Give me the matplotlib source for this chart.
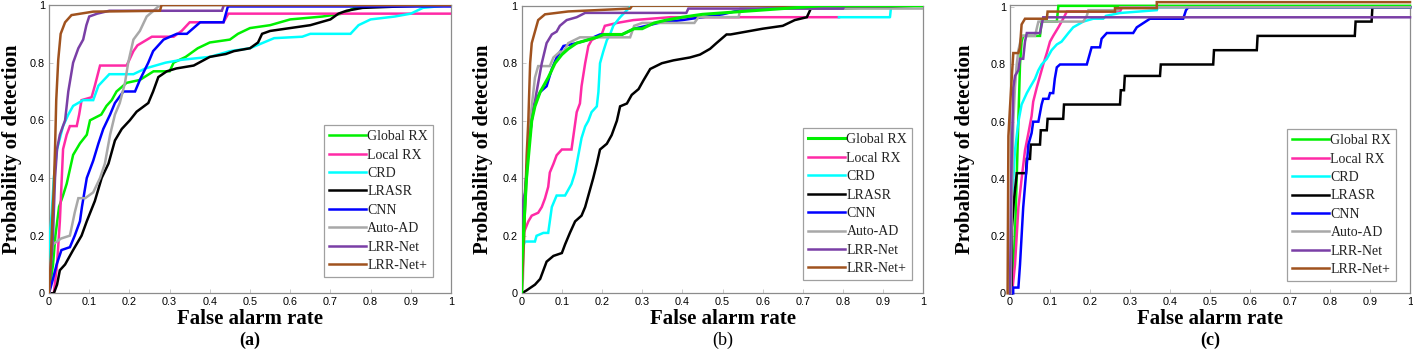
import matplotlib
matplotlib.use("Agg")
import matplotlib.pyplot as plt

# ---------------- data ----------------
LABELS = ["Global RX", "Local RX", "CRD", "LRASR", "CNN", "Auto-AD", "LRR-Net", "LRR-Net+"]
COLORS = ["#00f000", "#ff2aa6", "#00ffff", "#000000", "#0000ff", "#a8a8a8", "#7a3fa6", "#a0521e"]
PANEL_TAGS = ["(a)", "(b)", "(c)"]
XTICKS = [0, 0.1, 0.2, 0.3, 0.4, 0.5, 0.6, 0.7, 0.8, 0.9, 1]
XTICK_LABELS = ["0", "0.1", "0.2", "0.3", "0.4", "0.5", "0.6", "0.7", "0.8", "0.9", "1"]
YTICKS = [0, 0.2, 0.4, 0.6, 0.8, 1]
YTICK_LABELS = ["0", "0.2", "0.4", "0.6", "0.8", "1"]

# Panel (a)
a_global_x = [0, 0.005, 0.01, 0.016, 0.025, 0.035, 0.044, 0.052, 0.06, 0.077, 0.094, 0.102, 0.13, 0.143, 0.156, 0.168, 0.193, 0.226, 0.26, 0.3, 0.31, 0.34, 0.37, 0.40, 0.45, 0.47, 0.5, 0.55, 0.6, 0.68, 0.73, 0.76, 0.85, 1.0]
a_global_y = [0, 0.05, 0.1, 0.2, 0.3, 0.34, 0.38, 0.43, 0.48, 0.52, 0.55, 0.6, 0.62, 0.65, 0.67, 0.7, 0.73, 0.74, 0.77, 0.77, 0.8, 0.82, 0.85, 0.87, 0.88, 0.9, 0.92, 0.93, 0.95, 0.96, 0.97, 0.99, 1.0, 1.0]
a_local_x = [0.008, 0.012, 0.02, 0.027, 0.035, 0.044, 0.052, 0.069, 0.075, 0.081, 0.106, 0.114, 0.127, 0.193, 0.2, 0.21, 0.22, 0.256, 0.31, 0.32, 0.33, 0.35, 0.434, 0.446, 1.0]
a_local_y = [0, 0, 0.1, 0.25, 0.5, 0.55, 0.58, 0.58, 0.62, 0.67, 0.68, 0.72, 0.79, 0.79, 0.81, 0.84, 0.86, 0.89, 0.89, 0.9, 0.91, 0.94, 0.94, 0.97, 0.97]
a_crd_x = [0, 0, 0.002, 0.007, 0.012, 0.02, 0.035, 0.048, 0.06, 0.085, 0.11, 0.123, 0.15, 0.21, 0.24, 0.29, 0.33, 0.4, 0.45, 0.5, 0.56, 0.63, 0.65, 0.72, 0.75, 0.77, 0.8, 0.86, 0.9, 0.93, 1.0]
a_crd_y = [0, 0.13, 0.2, 0.28, 0.4, 0.5, 0.58, 0.62, 0.65, 0.67, 0.67, 0.72, 0.76, 0.76, 0.78, 0.8, 0.81, 0.82, 0.84, 0.85, 0.885, 0.89, 0.9, 0.9, 0.9, 0.93, 0.95, 0.96, 0.97, 0.99, 1.0]
a_lrasr_x = [0.008, 0.012, 0.02, 0.027, 0.04, 0.06, 0.081, 0.094, 0.114, 0.131, 0.148, 0.164, 0.181, 0.201, 0.218, 0.247, 0.259, 0.272, 0.293, 0.317, 0.36, 0.4, 0.44, 0.46, 0.5, 0.52, 0.53, 0.55, 0.6, 0.65, 0.7, 0.72, 0.74, 0.78, 0.97, 1.0]
a_lrasr_y = [0, 0, 0.03, 0.08, 0.1, 0.15, 0.2, 0.25, 0.32, 0.4, 0.45, 0.53, 0.57, 0.6, 0.63, 0.66, 0.7, 0.75, 0.77, 0.78, 0.79, 0.82, 0.83, 0.84, 0.85, 0.87, 0.9, 0.91, 0.92, 0.93, 0.95, 0.97, 0.98, 0.99, 1.0, 1.0]
a_cnn_x = [0, 0.01, 0.019, 0.031, 0.052, 0.064, 0.077, 0.082, 0.094, 0.11, 0.123, 0.135, 0.152, 0.164, 0.185, 0.214, 0.226, 0.247, 0.259, 0.285, 0.318, 0.343, 0.376, 0.434, 0.44, 0.445, 1.0]
a_cnn_y = [0, 0.05, 0.1, 0.15, 0.16, 0.2, 0.25, 0.3, 0.4, 0.46, 0.52, 0.57, 0.62, 0.66, 0.7, 0.7, 0.74, 0.8, 0.84, 0.88, 0.9, 0.9, 0.94, 0.94, 0.97, 0.995, 0.995]
a_autoad_x = [0, 0.003, 0.01, 0.03, 0.052, 0.064, 0.073, 0.09, 0.11, 0.127, 0.139, 0.152, 0.164, 0.176, 0.189, 0.197, 0.21, 0.226, 0.243, 0.26, 0.276, 1.0]
a_autoad_y = [0, 0.1, 0.17, 0.19, 0.2, 0.28, 0.33, 0.33, 0.35, 0.4, 0.45, 0.55, 0.62, 0.66, 0.73, 0.8, 0.88, 0.91, 0.96, 0.98, 1.0, 1.0]
a_lrrnet_x = [0, 0.005, 0.01, 0.015, 0.02, 0.027, 0.04, 0.048, 0.06, 0.073, 0.085, 0.093, 0.1, 0.12, 0.15, 0.43, 0.435, 1.0]
a_lrrnet_y = [0, 0.1, 0.2, 0.4, 0.5, 0.55, 0.6, 0.7, 0.8, 0.85, 0.88, 0.93, 0.96, 0.97, 0.98, 0.98, 1.0, 1.0]
a_lrrplus_x = [0, 0.004, 0.008, 0.012, 0.015, 0.018, 0.023, 0.029, 0.04, 0.056, 0.11, 0.276, 0.28, 1.0]
a_lrrplus_y = [0, 0.1, 0.25, 0.37, 0.5, 0.67, 0.81, 0.9, 0.94, 0.965, 0.977, 0.98, 1.0, 1.0]

# Panel (b)
b_global_x = [0, 0, 0.004, 0.012, 0.025, 0.033, 0.046, 0.058, 0.066, 0.083, 0.1, 0.116, 0.137, 0.162, 0.187, 0.204, 0.25, 0.28, 0.3, 0.33, 0.36, 0.4, 0.45, 0.55, 0.65, 0.75, 1.0]
b_global_y = [0, 0.1, 0.2, 0.4, 0.6, 0.65, 0.7, 0.73, 0.75, 0.8, 0.83, 0.85, 0.87, 0.88, 0.89, 0.9, 0.9, 0.92, 0.92, 0.94, 0.95, 0.96, 0.97, 0.98, 0.99, 1.0, 1.0]
b_local_x = [0, 0, 0.008, 0.0165, 0.025, 0.041, 0.05, 0.058, 0.066, 0.07, 0.079, 0.087, 0.1, 0.124, 0.129, 0.137, 0.145, 0.149, 0.158, 0.166, 0.174, 0.199, 0.207, 0.237, 0.278, 0.37, 0.79]
b_local_y = [0, 0.2, 0.22, 0.25, 0.27, 0.28, 0.3, 0.33, 0.37, 0.42, 0.45, 0.48, 0.5, 0.5, 0.55, 0.63, 0.66, 0.72, 0.8, 0.86, 0.88, 0.9, 0.93, 0.94, 0.95, 0.96, 0.96]
b_crd_x = [0, 0, 0.008, 0.033, 0.037, 0.054, 0.066, 0.07, 0.075, 0.087, 0.108, 0.116, 0.124, 0.133, 0.141, 0.149, 0.158, 0.166, 0.174, 0.187, 0.191, 0.195, 0.203, 0.212, 0.22, 0.228, 0.245, 0.266, 0.274, 1.0]
b_crd_y = [0, 0.15, 0.18, 0.18, 0.2, 0.21, 0.21, 0.25, 0.3, 0.34, 0.34, 0.36, 0.38, 0.42, 0.48, 0.54, 0.58, 0.6, 0.63, 0.65, 0.7, 0.8, 0.84, 0.88, 0.9, 0.93, 0.96, 0.99, 1.0, 1.0]
b_crd_tail_x = [0.79, 0.917, 0.92, 1.0]
b_crd_tail_y = [0.96, 0.96, 1.0, 1.0]
b_lrasr_x = [0, 0.012, 0.033, 0.046, 0.054, 0.062, 0.079, 0.1, 0.108, 0.12, 0.133, 0.149, 0.158, 0.17, 0.178, 0.187, 0.195, 0.212, 0.224, 0.237, 0.245, 0.262, 0.274, 0.291, 0.303, 0.32, 0.349, 0.378, 0.419, 0.444, 0.469, 0.485, 0.51, 0.52, 0.56, 0.6, 0.65, 0.68, 0.71, 0.72, 0.77, 0.9, 0.98, 1.0]
b_lrasr_y = [0, 0.01, 0.03, 0.05, 0.08, 0.11, 0.13, 0.14, 0.17, 0.21, 0.25, 0.27, 0.3, 0.36, 0.4, 0.45, 0.5, 0.52, 0.55, 0.6, 0.65, 0.66, 0.69, 0.71, 0.74, 0.78, 0.8, 0.81, 0.82, 0.83, 0.85, 0.87, 0.9, 0.9, 0.91, 0.92, 0.93, 0.95, 0.96, 0.99, 0.99, 0.995, 1.0, 1.0]
b_cnn_x = [0, 0, 0.004, 0.016, 0.029, 0.046, 0.062, 0.075, 0.087, 0.104, 0.137, 0.162, 0.195, 0.25, 0.28, 0.34, 0.4, 0.45, 0.5, 0.53, 0.6, 0.7, 1.0]
b_cnn_y = [0, 0.12, 0.25, 0.5, 0.65, 0.7, 0.72, 0.78, 0.82, 0.86, 0.87, 0.88, 0.9, 0.9, 0.92, 0.94, 0.95, 0.96, 0.97, 0.98, 0.99, 1.0, 1.0]
b_autoad_x = [0, 0.003, 0.008, 0.021, 0.033, 0.041, 0.07, 0.079, 0.095, 0.104, 0.116, 0.145, 0.27, 0.28, 0.3, 0.43, 0.44, 0.54, 0.545, 1.0]
b_autoad_y = [0, 0.05, 0.3, 0.6, 0.75, 0.79, 0.79, 0.82, 0.84, 0.84, 0.87, 0.89, 0.89, 0.93, 0.94, 0.94, 0.96, 0.96, 0.99, 0.99]
b_lrrnet_x = [0, 0, 0.008, 0.0165, 0.025, 0.037, 0.05, 0.062, 0.075, 0.087, 0.095, 0.112, 0.137, 0.158, 0.41, 0.415, 0.8, 0.805, 1.0]
b_lrrnet_y = [0, 0.3, 0.35, 0.5, 0.6, 0.7, 0.8, 0.87, 0.9, 0.91, 0.93, 0.95, 0.96, 0.975, 0.975, 0.99, 0.99, 1.0, 1.0]
b_lrrplus_x = [0, 0.006, 0.0124, 0.0165, 0.021, 0.025, 0.031, 0.041, 0.058, 0.116, 0.27, 0.275, 1.0]
b_lrrplus_y = [0, 0.2, 0.48, 0.6, 0.8, 0.87, 0.9, 0.95, 0.97, 0.98, 0.99, 1.0, 1.0]

# Panel (c)
c_global_x = [0.005, 0.0125, 0.0167, 0.0208, 0.025, 0.029, 0.033, 0.075, 0.079, 0.117, 0.121, 1.0]
c_global_y = [0, 0.2, 0.4, 0.6, 0.8, 0.88, 0.9, 0.9, 0.95, 0.95, 1.005, 1.005]
c_local_x = [0.005, 0.0125, 0.021, 0.029, 0.0375, 0.046, 0.054, 0.058, 0.067, 0.075, 0.083, 0.092, 0.1, 0.108, 0.121, 0.133, 0.142, 0.275, 0.28, 1.0]
c_local_y = [0, 0.1, 0.3, 0.4, 0.5, 0.56, 0.62, 0.67, 0.72, 0.76, 0.8, 0.84, 0.88, 0.9, 0.93, 0.96, 0.985, 0.985, 1.0, 1.0]
c_crd_x = [0.002, 0.0042, 0.0125, 0.021, 0.029, 0.042, 0.05, 0.0625, 0.071, 0.079, 0.092, 0.104, 0.117, 0.129, 0.146, 0.158, 0.183, 0.208, 0.233, 0.24, 0.275, 0.367, 0.37, 1.0]
c_crd_y = [0, 0.3, 0.5, 0.6, 0.66, 0.7, 0.72, 0.75, 0.78, 0.8, 0.82, 0.85, 0.87, 0.88, 0.91, 0.93, 0.95, 0.96, 0.96, 0.97, 0.98, 0.99, 1.0, 1.0]
c_lrasr_x = [0, 0.004, 0.005, 0.01, 0.017, 0.04, 0.042, 0.05, 0.052, 0.075, 0.077, 0.092, 0.094, 0.133, 0.135, 0.275, 0.277, 0.285, 0.287, 0.375, 0.377, 0.508, 0.51, 0.617, 0.619, 0.862, 0.864, 0.904, 0.906, 1.0]
c_lrasr_y = [0, 0, 0.23, 0.33, 0.42, 0.42, 0.47, 0.47, 0.52, 0.52, 0.57, 0.57, 0.61, 0.61, 0.66, 0.66, 0.71, 0.71, 0.76, 0.76, 0.8, 0.8, 0.85, 0.85, 0.9, 0.9, 0.95, 0.95, 1.0, 1.0]
c_cnn_x = [0.003, 0.008, 0.008, 0.021, 0.025, 0.033, 0.042, 0.046, 0.054, 0.058, 0.071, 0.075, 0.079, 0.083, 0.096, 0.1, 0.108, 0.112, 0.117, 0.125, 0.192, 0.196, 0.204, 0.225, 0.229, 0.242, 0.308, 0.317, 0.35, 0.433, 0.44, 0.446, 1.0]
c_cnn_y = [0, 0, 0.02, 0.02, 0.1, 0.3, 0.45, 0.52, 0.56, 0.6, 0.6, 0.63, 0.66, 0.68, 0.68, 0.7, 0.7, 0.75, 0.79, 0.8, 0.8, 0.82, 0.86, 0.86, 0.89, 0.91, 0.91, 0.93, 0.96, 0.96, 0.99, 1.0, 1.0]
c_autoad_x = [0.002, 0.0042, 0.0083, 0.0125, 0.0167, 0.021, 0.029, 0.0625, 0.071, 0.183, 0.192, 0.196, 0.27, 0.275, 1.0]
c_autoad_y = [0, 0.3, 0.6, 0.72, 0.8, 0.85, 0.9, 0.9, 0.95, 0.95, 0.97, 0.99, 0.99, 1.0, 1.0]
c_lrrnet_x = [0, 0.003, 0.0083, 0.0125, 0.021, 0.025, 0.033, 0.0375, 0.042, 0.075, 0.083, 1.0]
c_lrrnet_y = [0, 0.4, 0.72, 0.76, 0.78, 0.82, 0.82, 0.88, 0.91, 0.91, 0.965, 0.965]
c_lrrplus_x = [-0.006, -0.004, 0, 0.0042, 0.0083, 0.021, 0.025, 0.027, 0.029, 0.0375, 0.092, 0.094, 0.2625, 0.2625, 0.367, 0.367, 1.0]
c_lrrplus_y = [0, 0.55, 0.65, 0.75, 0.84, 0.84, 0.86, 0.9, 0.94, 0.96, 0.96, 0.985, 0.985, 0.997, 0.997, 1.018, 1.018]

PANELS = [
    [(a_global_x, a_global_y), (a_local_x, a_local_y), (a_crd_x, a_crd_y), (a_lrasr_x, a_lrasr_y),
     (a_cnn_x, a_cnn_y), (a_autoad_x, a_autoad_y), (a_lrrnet_x, a_lrrnet_y), (a_lrrplus_x, a_lrrplus_y)],
    [(b_global_x, b_global_y), (b_local_x, b_local_y), (b_crd_x, b_crd_y), (b_lrasr_x, b_lrasr_y),
     (b_cnn_x, b_cnn_y), (b_autoad_x, b_autoad_y), (b_lrrnet_x, b_lrrnet_y), (b_lrrplus_x, b_lrrplus_y)],
    [(c_global_x, c_global_y), (c_local_x, c_local_y), (c_crd_x, c_crd_y), (c_lrasr_x, c_lrasr_y),
     (c_cnn_x, c_cnn_y), (c_autoad_x, c_autoad_y), (c_lrrnet_x, c_lrrnet_y), (c_lrrplus_x, c_lrrplus_y)],
]

# ---------------- layout ----------------
W, H = 1413, 352
fig = plt.figure(figsize=(W / 100, H / 100), dpi=100)

# axes boxes in pixels: left, right, top(y of ymax), bottom(y of 0)
boxes = [(49, 451, 5, 293.3), (521.7, 923.3, 5.7, 293.3), (1010, 1410, 5, 293.3)]
ytops = [1.0, 1.0, 1.008]
ylab_x = [-0.092, -0.096, -0.1125]
leg_anchor = [(0.955, 0.057), (0.972, 0.046), (0.965, 0.043)]
tag_weight = ["bold", "normal", "bold"]

SERIF = "Liberation Serif"
SANS = "Liberation Sans"
SPINE = "#8c8c8c"

for i, (l, r, t, b) in enumerate(boxes):
    ax = fig.add_axes([l / W, (H - b) / H, (r - l) / W, (b - t) / H])
    handles = []
    for k, (xs, ys) in enumerate(PANELS[i]):
        z = 3 + k
        if i == 1 and k == 0:
            z = 20
        ln, = ax.plot(xs, ys, color=COLORS[k], lw=1.8, label=LABELS[k], zorder=z,
                      clip_on=(i != 2), solid_joinstyle="miter")
        if i == 1 and k == 0:
            ln.set_linewidth(2.2)
        handles.append(ln)
    if i == 1:
        ax.plot(b_crd_tail_x, b_crd_tail_y, color=COLORS[2], lw=1.8, zorder=5)
    ax.set_xlim(0, 1)
    ax.set_ylim(0, ytops[i])
    ax.set_xticks(XTICKS)
    ax.set_xticklabels(XTICK_LABELS, fontfamily=SANS, fontsize=7.8)
    ax.set_yticks(YTICKS)
    ax.set_yticklabels(YTICK_LABELS, fontfamily=SANS, fontsize=7.8)
    ax.tick_params(direction="in", length=3, width=0.6, color="#c0c0c0", pad=3)
    for s in ax.spines.values():
        s.set_color(SPINE)
        s.set_linewidth(0.9)
    ax.set_xlabel("False alarm rate", fontfamily=SERIF, fontsize=15, fontweight="bold")
    ax.xaxis.set_label_coords(0.5, -0.089)
    ax.xaxis.label.set_va("center")
    ax.set_ylabel("Probability of detection", fontfamily=SERIF, fontsize=15, fontweight="bold")
    ax.yaxis.set_label_coords(ylab_x[i], 0.5)
    ax.yaxis.label.set_va("center")
    ax.text(0.5, -0.162, PANEL_TAGS[i], transform=ax.transAxes, ha="center", va="center",
            fontfamily=SERIF, fontsize=13, fontweight=tag_weight[i])
    leg = ax.legend(handles=handles, loc="lower right", bbox_to_anchor=leg_anchor[i],
                    borderaxespad=0, prop={"family": SERIF, "size": 10},
                    fancybox=False, framealpha=1, edgecolor="#a0a0a0",
                    handlelength=2.65, handletextpad=0.1, labelspacing=0.39,
                    borderpad=0.35)
    leg.get_frame().set_linewidth(0.9)
    for txt in leg.get_texts():
        txt.set_color("#222222")
    leg.set_zorder(30)

fig.savefig("out.png", dpi=100)
